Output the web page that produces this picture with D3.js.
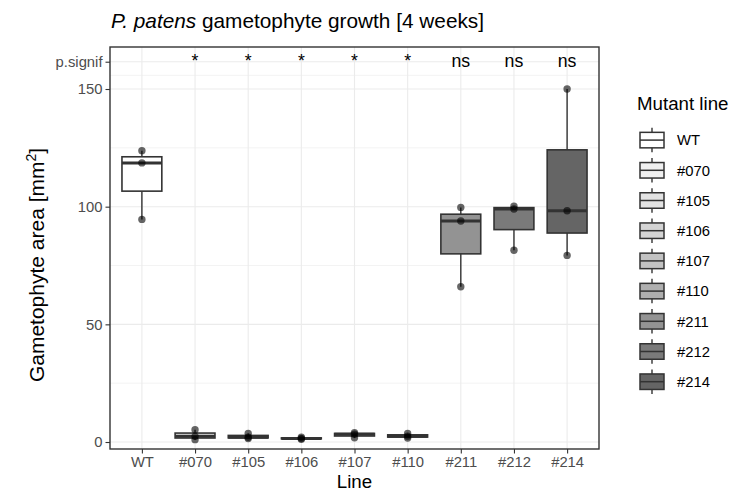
<!DOCTYPE html>
<html>
<head>
<meta charset="utf-8">
<script src="https://cdn.jsdelivr.net/npm/d3@7"></script>
<style>
  html, body { margin: 0; padding: 0; background: #fff; }
  svg { display: block; font-family: "Liberation Sans", Arial, Helvetica, sans-serif; }
</style>
</head>
<body>
<svg id="chart" width="740" height="494"></svg>
<script>
// ---- data ----
const lines = ["WT", "#070", "#105", "#106", "#107", "#110", "#211", "#212", "#214"];
const areaValues = [
  [94.6, 118.6, 123.8],
  [1.0, 2.4, 5.2],
  [1.5, 2.0, 3.6],
  [1.2, 1.5, 2.0],
  [1.8, 3.3, 4.0],
  [1.7, 2.5, 3.6],
  [66.0, 93.9, 99.7],
  [81.5, 99.0, 100.2],
  [79.3, 98.3, 150.0]
];
const signifLabels = ["", "*", "*", "*", "*", "*", "ns", "ns", "ns"];
const fillColors = ["#ffffff", "#f0f0f0", "#e3e3e3", "#d4d4d4", "#c2c2c2", "#afafaf", "#939393", "#7a7a7a", "#656565"];
const signifY = 161.6;
const yTickValues = [0, 50, 100, 150, signifY];
const yTickLabels = ["0", "50", "100", "150", "p.signif"];
const yMinorValues = [25, 75, 125, (150 + signifY) / 2];

// ---- layout ----
const svg = d3.select("#chart");
const panel = { left: 110, right: 599, top: 47, bottom: 449 };
const x = d3.scalePoint().domain(lines).range([panel.left, panel.right]).padding(0.6);
const y = d3.scaleLinear().domain([-2.97, 167.85]).range([panel.bottom, panel.top]);
const boxW = x.step() * 0.75;

const g = svg.append("g");

// grid
g.selectAll(".minor").data(yMinorValues).join("line")
  .attr("x1", panel.left).attr("x2", panel.right)
  .attr("y1", d => y(d)).attr("y2", d => y(d))
  .attr("stroke", "#ebebeb").attr("stroke-width", 0.6);
g.selectAll(".majory").data(yTickValues).join("line")
  .attr("x1", panel.left).attr("x2", panel.right)
  .attr("y1", d => y(d)).attr("y2", d => y(d))
  .attr("stroke", "#ebebeb").attr("stroke-width", 1.1);
g.selectAll(".majorx").data(lines).join("line")
  .attr("x1", d => x(d)).attr("x2", d => x(d))
  .attr("y1", panel.top).attr("y2", panel.bottom)
  .attr("stroke", "#ebebeb").attr("stroke-width", 1.1);

// boxplots
const stats = lines.map((name, i) => {
  const v = areaValues[i].slice().sort(d3.ascending);
  const q1 = d3.quantile(v, 0.25), med = d3.quantile(v, 0.5), q3 = d3.quantile(v, 0.75);
  const iqr = q3 - q1;
  const lo = d3.min(v.filter(d => d >= q1 - 1.5 * iqr));
  const hi = d3.max(v.filter(d => d <= q3 + 1.5 * iqr));
  return { name, i, v, q1, med, q3, lo, hi };
});

const bg = g.selectAll(".box").data(stats).join("g");
bg.append("line")
  .attr("x1", d => x(d.name)).attr("x2", d => x(d.name))
  .attr("y1", d => y(d.hi)).attr("y2", d => y(d.q3))
  .attr("stroke", "#333").attr("stroke-width", 1.4);
bg.append("line")
  .attr("x1", d => x(d.name)).attr("x2", d => x(d.name))
  .attr("y1", d => y(d.q1)).attr("y2", d => y(d.lo))
  .attr("stroke", "#333").attr("stroke-width", 1.4);
bg.append("rect")
  .attr("x", d => x(d.name) - boxW / 2).attr("width", boxW)
  .attr("y", d => y(d.q3)).attr("height", d => Math.max(0.5, y(d.q1) - y(d.q3)))
  .attr("fill", d => fillColors[d.i])
  .attr("stroke", "#333").attr("stroke-width", 1.6);
bg.append("line")
  .attr("x1", d => x(d.name) - boxW / 2).attr("x2", d => x(d.name) + boxW / 2)
  .attr("y1", d => y(d.med)).attr("y2", d => y(d.med))
  .attr("stroke", "#333").attr("stroke-width", 3);

// points
const pts = stats.flatMap(d => d.v.map(val => ({ name: d.name, val })));
g.selectAll(".pt").data(pts).join("circle")
  .attr("cx", d => x(d.name)).attr("cy", d => y(d.val)).attr("r", 3.7)
  .attr("fill", "#000").attr("fill-opacity", 0.6);

// panel border
g.append("rect")
  .attr("x", panel.left).attr("y", panel.top)
  .attr("width", panel.right - panel.left).attr("height", panel.bottom - panel.top)
  .attr("fill", "none").attr("stroke", "#333").attr("stroke-width", 1.4);

// significance labels
g.selectAll(".sig").data(lines).join("text")
  .attr("x", d => x(d)).attr("y", y(signifY)).attr("dy", "0.28em")
  .attr("text-anchor", "middle").attr("font-size", 17.7).attr("fill", "#000")
  .text((d, i) => signifLabels[i]);

// axes
const yAxis = d3.axisLeft(y).tickValues(yTickValues)
  .tickFormat((d, i) => yTickLabels[i]).tickSize(4.5).tickPadding(3);
const ya = g.append("g").attr("transform", `translate(${panel.left},0)`).call(yAxis);
ya.select(".domain").remove();
ya.selectAll(".tick line").attr("stroke", "#333").attr("stroke-width", 1.1);
ya.selectAll(".tick text").attr("fill", "#4d4d4d").attr("font-size", 14.8)
  .attr("font-family", "Liberation Sans, Arial, sans-serif");

const xAxis = d3.axisBottom(x).tickSize(4.5).tickPadding(3);
const xa = g.append("g").attr("transform", `translate(0,${panel.bottom})`).call(xAxis);
xa.select(".domain").remove();
xa.selectAll(".tick line").attr("stroke", "#333").attr("stroke-width", 1.1);
xa.selectAll(".tick text").attr("fill", "#4d4d4d").attr("font-size", 14.8)
  .attr("font-family", "Liberation Sans, Arial, sans-serif");

// titles
const title = svg.append("text").attr("x", 111).attr("y", 28).attr("font-size", 20.8).attr("fill", "#000");
title.append("tspan").attr("font-style", "italic").text("P. patens");
title.append("tspan").text(" gametophyte growth [4 weeks]");

svg.append("text").attr("x", (panel.left + panel.right) / 2).attr("y", 488)
  .attr("text-anchor", "middle").attr("font-size", 18.7).attr("fill", "#000").text("Line");

const yt = svg.append("text").attr("transform", "translate(44,265) rotate(-90)")
  .attr("text-anchor", "middle").attr("font-size", 21).attr("fill", "#000");
yt.append("tspan").text("Gametophyte area [mm");
yt.append("tspan").attr("font-size", 14).attr("dy", "-0.6em").text("2");
yt.append("tspan").attr("dy", "0.4em").text("]");

// legend
const leg = svg.append("g");
leg.append("text").attr("x", 637).attr("y", 110).attr("font-size", 18.7).attr("fill", "#000").text("Mutant line");
const keyH = 30.2, keyTop = 125, kx = 640, kw = 24, kbh = 15.5;
const items = leg.selectAll(".item").data(lines).join("g")
  .attr("transform", (d, i) => `translate(0,${keyTop + i * keyH})`);
items.append("line").attr("x1", kx + kw / 2).attr("x2", kx + kw / 2)
  .attr("y1", keyH / 2 - kbh / 2 - 4.5).attr("y2", keyH / 2 + kbh / 2 + 4.5)
  .attr("stroke", "#333").attr("stroke-width", 1.4);
items.append("rect").attr("x", kx).attr("y", keyH / 2 - kbh / 2).attr("width", kw).attr("height", kbh)
  .attr("fill", (d, i) => fillColors[i]).attr("stroke", "#333").attr("stroke-width", 1.5);
items.append("line").attr("x1", kx).attr("x2", kx + kw)
  .attr("y1", keyH / 2).attr("y2", keyH / 2)
  .attr("stroke", "#333").attr("stroke-width", 1.5);
items.append("text").attr("x", 677).attr("y", keyH / 2).attr("dy", "0.36em")
  .attr("font-size", 14.8).attr("fill", "#000").text(d => d);
</script>
</body>
</html>
